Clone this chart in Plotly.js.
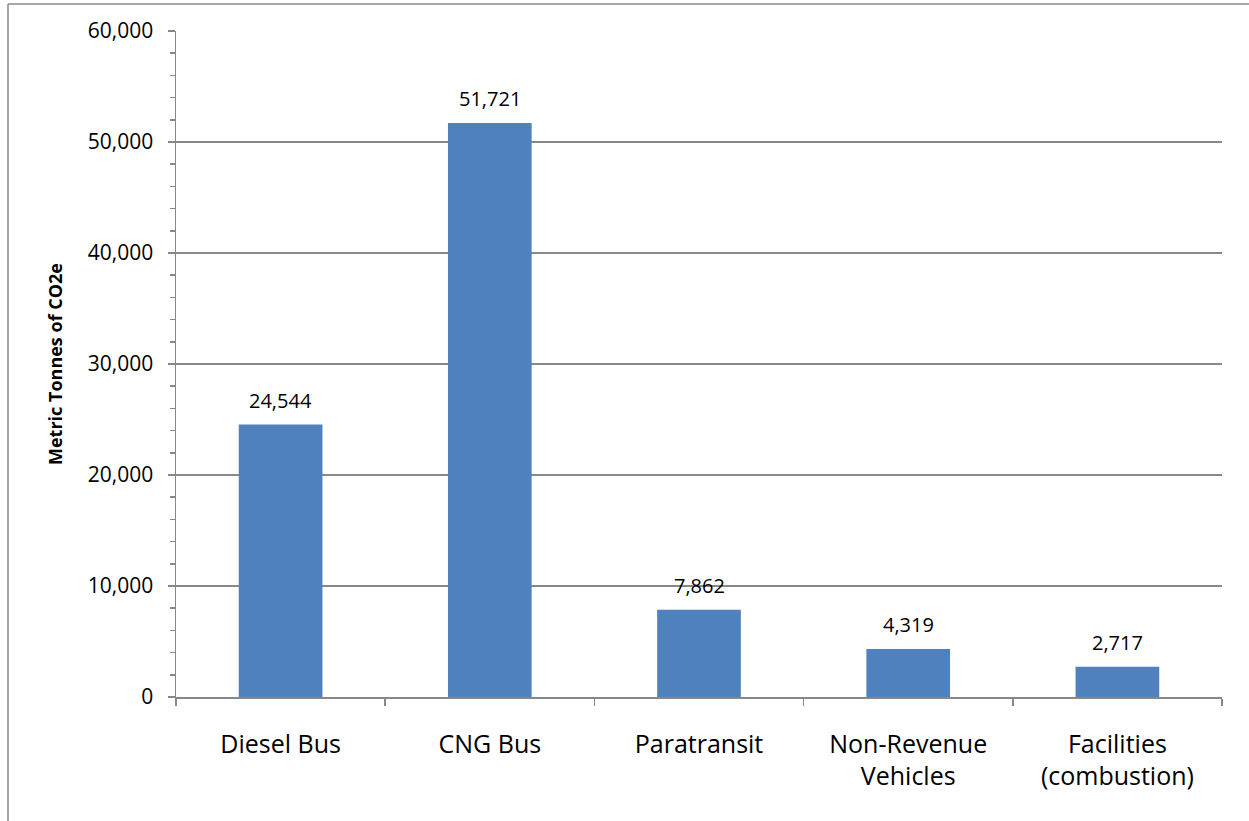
<!DOCTYPE html>
<html>
<head>
<meta charset="utf-8">
<script src="https://cdn.plot.ly/plotly-3.0.1.min.js"></script>
<style>
html,body{margin:0;padding:0;background:#fff;}
#chart{width:1249px;height:821px;}
</style>
</head>
<body>
<div id="chart"></div>
<script>
const categories = ["Diesel Bus", "CNG Bus", "Paratransit", "Non-Revenue<br>Vehicles", "Facilities<br>(combustion)"];
const values = [24544, 51721, 7862, 4319, 2717];
const yTickVals = [0, 10000, 20000, 30000, 40000, 50000, 60000];
const yTitle = "Metric Tonnes of CO2e";

const FONT = "Open Sans, Noto Sans, sans-serif";
const GRAY = "#888888";

const L = 176, R = 27, T = 31, B = 124, W = 1249, H = 821;
const pw = W - L - R, ph = H - T - B;
const px = (p) => (p - L) / pw;
const py = (p) => (H - B - p) / ph;

const annotations = values.map((v, i) => ({
  x: categories[i], y: v, xref: 'x', yref: 'y',
  text: v.toLocaleString('en-US'),
  showarrow: false, yanchor: 'bottom', yshift: 9,
  font: {family: FONT, size: 20, color: '#000'}
}));

const trace = {
  type: 'bar', x: categories, y: values,
  marker: {color: '#4F81BD'},
  hoverinfo: 'x+y'
};

const layout = {
  width: W, height: H,
  margin: {l: L, r: R, t: T, b: B},
  paper_bgcolor: '#fff', plot_bgcolor: '#fff',
  bargap: 0.6,
  showlegend: false,
  font: {family: FONT, color: '#000'},
  xaxis: {
    type: 'category',
    showline: true, linecolor: GRAY, linewidth: 1.5,
    ticks: 'outside', tickson: 'boundaries', ticklen: 7, tickcolor: GRAY, tickwidth: 1.5,
    tickfont: {family: FONT, size: 25, color: '#000'},
    ticklabelstandoff: 24,
    showgrid: false, zeroline: false
  },
  yaxis: {
    range: [0, 60000], tickvals: yTickVals, tickformat: ',',
    showline: true, linecolor: GRAY, linewidth: 1.5,
    ticks: 'outside', ticklen: 7, tickcolor: GRAY, tickwidth: 1.5,
    tickfont: {family: FONT, size: 21, color: '#000'},
    ticklabelstandoff: 10,
    showgrid: true, gridcolor: GRAY, gridwidth: 1.2,
    zeroline: false,
    minor: {dtick: 2000, ticks: 'outside', ticklen: 5, tickcolor: GRAY, tickwidth: 1.5, showgrid: false},
    title: {text: yTitle, font: {family: FONT, size: 18, color: '#000', weight: 'bold'}, standoff: 20}
  },
  annotations: annotations,
  shapes: [
    {type: 'line', xref: 'paper', yref: 'paper', x0: px(8), x1: px(8), y0: py(4), y1: py(H + 5), line: {color: GRAY, width: 1.5}, layer: 'below'},
    {type: 'line', xref: 'paper', yref: 'paper', x0: px(8), x1: px(W + 5), y0: py(4), y1: py(4), line: {color: GRAY, width: 1.5}, layer: 'below'}
  ]
};

Plotly.newPlot('chart', [trace], layout, {displayModeBar: false, staticPlot: true});
</script>
</body>
</html>
